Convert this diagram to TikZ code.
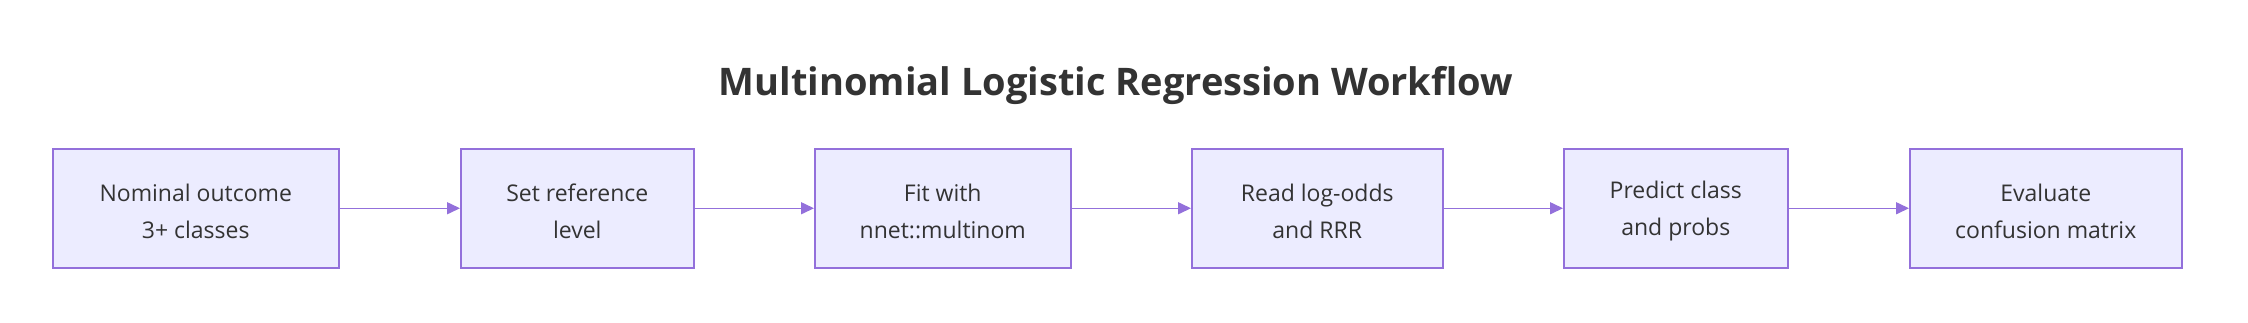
\documentclass[tikz,border=0pt]{standalone}
\usepackage{fontspec}
\setmainfont{Open Sans}
\usetikzlibrary{arrows.meta}
\definecolor{boxfill}{HTML}{ECECFF}
\definecolor{boxline}{HTML}{9370DB}
\definecolor{txt}{HTML}{333333}
\begin{document}
\begin{tikzpicture}[x=1pt,y=-1pt,
  stepbox/.style={draw=boxline,fill=boxfill,line width=1.5pt,inner sep=0pt,
    minimum height=119pt,anchor=north west},
  steptext/.style={align=center,text=txt,font=\fontsize{23}{37}\selectfont,inner sep=0pt,yshift=-3pt},
  flow/.style={draw=boxline,line width=1.5pt,-{Triangle[length=13pt,width=12pt]}}]
\useasboundingbox (0,0) rectangle (2248,322);
\node[text=txt,font=\fontsize{38}{44}\selectfont\bfseries] (title) at (1116,86) {Multinomial Logistic Regression Workflow};
\node[stepbox,minimum width=286pt] (a) at (52,148) {};
\node[stepbox,minimum width=233pt] (b) at (460,148) {};
\node[stepbox,minimum width=256pt] (c) at (814,148) {};
\node[stepbox,minimum width=251pt] (d) at (1191,148) {};
\node[stepbox,minimum width=224pt] (e) at (1563,148) {};
\node[stepbox,minimum width=272pt] (f) at (1909,148) {};
\node[steptext] (ta) at (a.center) {Nominal outcome\\3+ classes};
\node[steptext] (tb) at (b.center) {Set reference\\level};
\node[steptext] (tc) at (c.center) {Fit with\\nnet::multinom};
\node[steptext] (td) at (d.center) {Read log-odds\\and RRR};
\node[steptext] (te) at (e.center) {Predict class\\and probs};
\node[steptext] (tf) at (f.center) {Evaluate\\confusion matrix};
\draw[flow] (a) -- (b);
\draw[flow] (b) -- (c);
\draw[flow] (c) -- (d);
\draw[flow] (d) -- (e);
\draw[flow] (e) -- (f);
\end{tikzpicture}
\end{document}
